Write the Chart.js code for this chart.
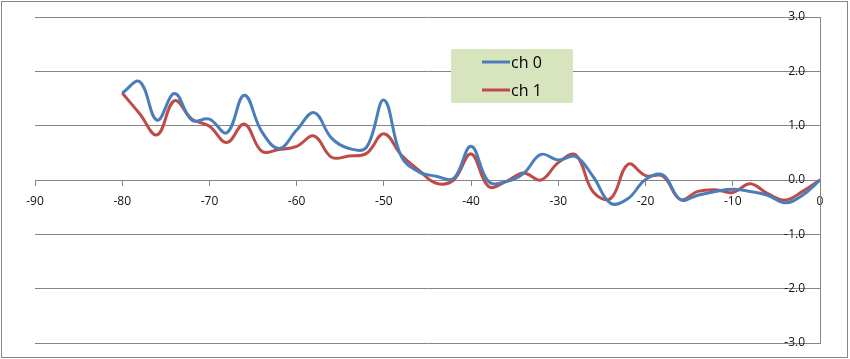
<!DOCTYPE html>
<html>
<head>
<meta charset="utf-8">
<script src="https://cdn.jsdelivr.net/npm/chart.js@4/dist/chart.umd.min.js"></script>
<style>
    body { margin: 0; background: #fff; }
    canvas { display: block; }
</style>
</head>
<body>
<canvas id="chart" width="850" height="359"></canvas>
<script>
// x positions of the samples
const xValues = [-80, -78, -76, -74, -72, -70, -68, -66, -64, -62, -60,
    -58, -56, -54, -52, -50, -48, -46, -44, -42, -40,
    -38, -36, -34, -32, -30, -28, -26, -24, -22, -20,
    -18, -16, -14, -12, -10, -8, -6, -4, -2, 0];

const ch0 = [1.60, 1.81, 1.10, 1.59, 1.10, 1.12, 0.87, 1.56, 0.89, 0.58, 0.92,
    1.24, 0.77, 0.58, 0.60, 1.47, 0.43, 0.15, 0.07, 0.03, 0.62,
    -0.03, -0.03, 0.12, 0.47, 0.37, 0.43, 0.06, -0.43, -0.34, 0.01,
    0.09, -0.36, -0.28, -0.21, -0.17, -0.21, -0.28, -0.42, -0.28, 0.00];

const ch1 = [1.60, 1.22, 0.83, 1.46, 1.12, 0.99, 0.69, 1.03, 0.53, 0.56, 0.62,
    0.81, 0.42, 0.44, 0.49, 0.85, 0.46, 0.18, -0.06, 0.00, 0.48,
    -0.12, -0.03, 0.13, 0.00, 0.32, 0.46, -0.22, -0.34, 0.29, 0.08,
    0.07, -0.36, -0.21, -0.18, -0.23, -0.07, -0.25, -0.37, -0.21, 0.00];

const seriesNames = ['ch 0', 'ch 1'];
const seriesColors = ['#4A7EBB', '#BE4B48'];

const xRange = [-90, 0];
const yRange = [-3, 3];

const toPoints = (ys) => ys.map((y, i) => ({ x: xValues[i], y }));

// outer frame, y labels next to the axis, and the legend box
const excelBits = {
    id: 'excelBits',
    beforeDraw(chart) {
        const c = chart.ctx;
        c.save();
        c.fillStyle = '#fff';
        c.fillRect(0, 0, chart.width, chart.height);
        c.strokeStyle = '#868686';
        c.lineWidth = 1;
        c.strokeRect(1.5, 1.5, 846, 356);
        c.restore();
    },
    afterDatasetsDraw(chart) {
        const c = chart.ctx;
        const y = chart.scales.y;
        c.save();
        c.font = '12px "Open Sans"';
        c.fillStyle = '#111';
        c.textAlign = 'right';
        c.textBaseline = 'middle';
        y.ticks.forEach(t => {
            c.fillText(t.value.toFixed(1), 805, y.getPixelForValue(t.value));
        });

        // legend
        c.fillStyle = '#D7E4BD';
        c.fillRect(451, 49, 122, 54);
        c.font = '16px "Open Sans"';
        c.textAlign = 'left';
        chart.data.datasets.forEach((ds, i) => {
            const ly = 62 + i * 28;
            c.strokeStyle = ds.borderColor;
            c.lineWidth = 3;
            c.beginPath();
            c.moveTo(482, ly);
            c.lineTo(510, ly);
            c.stroke();
            c.fillStyle = '#000';
            c.fillText(ds.label, 511, ly + 1);
        });
        c.restore();
    }
};

new Chart(document.getElementById('chart'), {
    type: 'line',
    data: {
        datasets: [
            { label: seriesNames[0], data: toPoints(ch0), borderColor: seriesColors[0] },
            { label: seriesNames[1], data: toPoints(ch1), borderColor: seriesColors[1] }
        ]
    },
    options: {
        responsive: false,
        animation: false,
        layout: { padding: { left: 35, right: 30, top: 17, bottom: 16 } },
        elements: {
            line: { borderWidth: 3, tension: 0.4, fill: false },
            point: { radius: 0 }
        },
        plugins: {
            legend: { display: false },
            tooltip: { enabled: false }
        },
        scales: {
            x: {
                type: 'linear',
                position: { y: 0 },
                min: xRange[0],
                max: xRange[1],
                ticks: {
                    stepSize: 10,
                    color: '#111',
                    font: { family: 'Open Sans', size: 12 },
                    padding: 9,
                    maxRotation: 0
                },
                grid: { drawOnChartArea: false, drawTicks: true, tickLength: 5, color: '#868686' },
                border: { display: true, color: '#868686' }
            },
            y: {
                position: 'right',
                min: yRange[0],
                max: yRange[1],
                ticks: { stepSize: 1, display: false },
                grid: { color: '#868686', drawTicks: false },
                border: { display: true, color: '#868686' }
            }
        }
    },
    plugins: [excelBits]
});
</script>
</body>
</html>
